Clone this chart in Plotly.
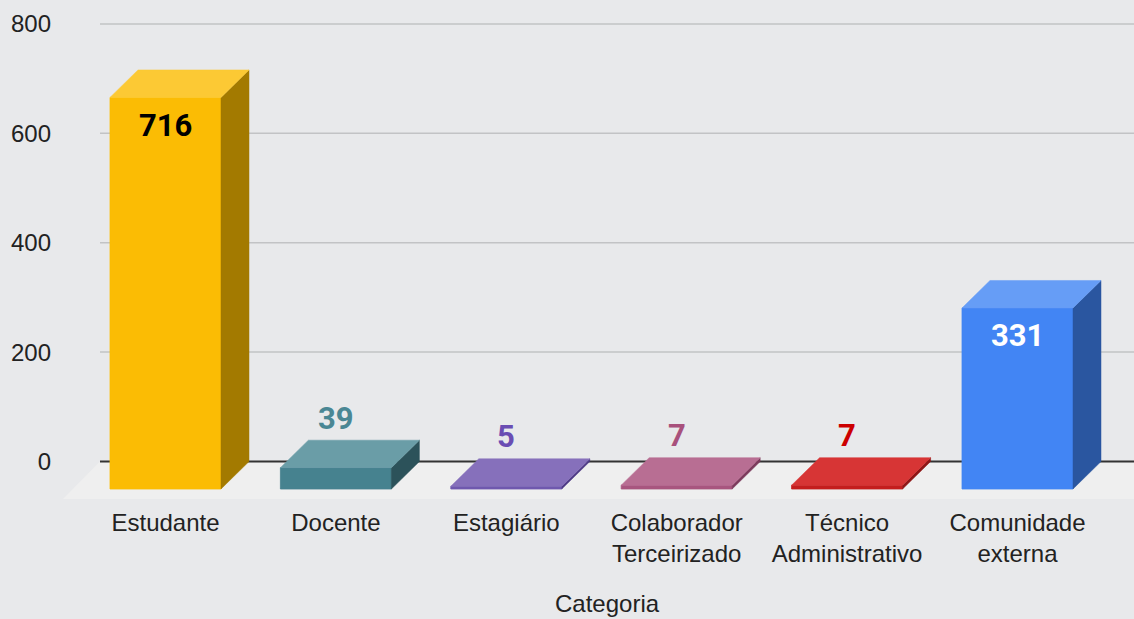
import plotly.graph_objects as go

# ---- data ----
categories = ["Estudante", "Docente", "Estagiário", "Colaborador<br>Terceirizado",
              "Técnico<br>Administrativo", "Comunidade<br>externa"]
values = [716, 39, 5, 7, 7, 331]
y_ticks = [0, 200, 400, 600, 800]
x_title = "Categoria"

# ---- styles ----
front_colors = ["#FBBC04", "#46828F", "#6F58AE", "#A8557F", "#C41E1E", "#4285F4"]
top_colors = ["#FCC934", "#6A9DA7", "#8670BB", "#B86E93", "#D73535", "#669DF6"]
side_colors = ["#A37A00", "#2C525A", "#4E3A85", "#7C3A5C", "#8E1616", "#2A56A0"]
label_colors = ["#000000", "#4A8794", "#6A4DB3", "#A8517C", "#CC0000", "#FFFFFF"]
label_inside = [True, False, False, False, False, True]

BG = "#E8E9EB"
FLOOR = "#EFEFEF"

# geometry (plot-area pixels -> axis units)
L, R, T, B = 58, 1134, 14, 504
px_per_unit_x = 170.4
x0_px = 165.5
px_per_unit_y = 0.5469
y0_px = 461.5

def xd(px):
    return (px - x0_px) / px_per_unit_x

def yd(px):
    return (y0_px - px) / px_per_unit_y

x_range = [xd(L), xd(R)]
y_range = [yd(B), yd(T)]

hw = 55.5 / px_per_unit_x       # half width of front face
ddx = 28 / px_per_unit_x        # depth offset x
ddy = 27.5 / px_per_unit_y      # depth offset y
fdx = 37 / px_per_unit_x        # floor depth x
fdy = 37.5 / px_per_unit_y      # floor depth y

fig = go.Figure()

# floor
gx0 = xd(100)
fig.add_trace(go.Scatter(
    x=[gx0 - fdx, x_range[1] + 1, x_range[1] + 1, gx0, gx0 - fdx],
    y=[-fdy, -fdy, 0, 0, -fdy],
    fill="toself", fillcolor=FLOOR, line=dict(width=0), mode="lines",
    hoverinfo="skip", showlegend=False))

# gridlines (back plane)
for t in y_ticks:
    fig.add_trace(go.Scatter(
        x=[gx0, x_range[1] + 1], y=[t, t], mode="lines",
        line=dict(color="#333333" if t == 0 else "#C2C3C5", width=2 if t == 0 else 1.5),
        hoverinfo="skip", showlegend=False))

# bars
for i, v in enumerate(values):
    cx = i
    xl, xr = cx - hw, cx + hw
    yb, yt = -ddy, v - ddy
    # front face
    fig.add_trace(go.Scatter(
        x=[xl, xr, xr, xl, xl], y=[yb, yb, yt, yt, yb],
        fill="toself", fillcolor=front_colors[i], mode="lines",
        line=dict(width=0.8, color=front_colors[i]), hoverinfo="skip", showlegend=False))
    # side face
    fig.add_trace(go.Scatter(
        x=[xr, xr + ddx, xr + ddx, xr, xr], y=[yb, 0, v, yt, yb],
        fill="toself", fillcolor=side_colors[i], mode="lines",
        line=dict(width=0.5, color=side_colors[i]), hoverinfo="skip", showlegend=False))
    # top face
    fig.add_trace(go.Scatter(
        x=[xl, xr, xr + ddx, xl + ddx, xl], y=[yt, yt, v, v, yt],
        fill="toself", fillcolor=top_colors[i], mode="lines",
        line=dict(width=0.5, color=top_colors[i]), hoverinfo="skip", showlegend=False))

# value labels
for i, v in enumerate(values):
    if label_inside[i]:
        fig.add_annotation(x=i, y=v - ddy, text=str(v), showarrow=False,
                           yanchor="middle", yshift=-28,
                           font=dict(family="Roboto", size=31, color=label_colors[i], weight="bold"))
    else:
        fig.add_annotation(x=i, y=v, text=str(v), showarrow=False,
                           yanchor="middle", yshift=22,
                           font=dict(family="Roboto", size=31, color=label_colors[i], weight="bold"))

# axis title
fig.add_annotation(x=(607 - L) / (R - L), y=(B - 603) / (B - T), xref="paper", yref="paper",
                   text=x_title, showarrow=False, xanchor="center", yanchor="middle",
                   font=dict(size=24, color="#222222"))

fig.update_layout(
    width=1134, height=619,
    margin=dict(l=L, r=1134 - R, t=T, b=619 - B),
    paper_bgcolor=BG, plot_bgcolor=BG,
    font=dict(family="Liberation Sans, Arial, sans-serif", size=24, color="#222222"),
    xaxis=dict(range=x_range, tickmode="array", tickvals=list(range(len(categories))),
               ticktext=categories, showgrid=False, zeroline=False, showline=False,
               ticks="", ticklabelstandoff=2),
    yaxis=dict(range=y_range, tickmode="array", tickvals=y_ticks,
               showgrid=False, zeroline=False, showline=False, ticks="",
               ticklabelstandoff=6),
    showlegend=False,
)

fig.write_html("out.html", config={"displayModeBar": False},
               post_script="document.body.style.margin='0';document.body.style.overflow='hidden';")
